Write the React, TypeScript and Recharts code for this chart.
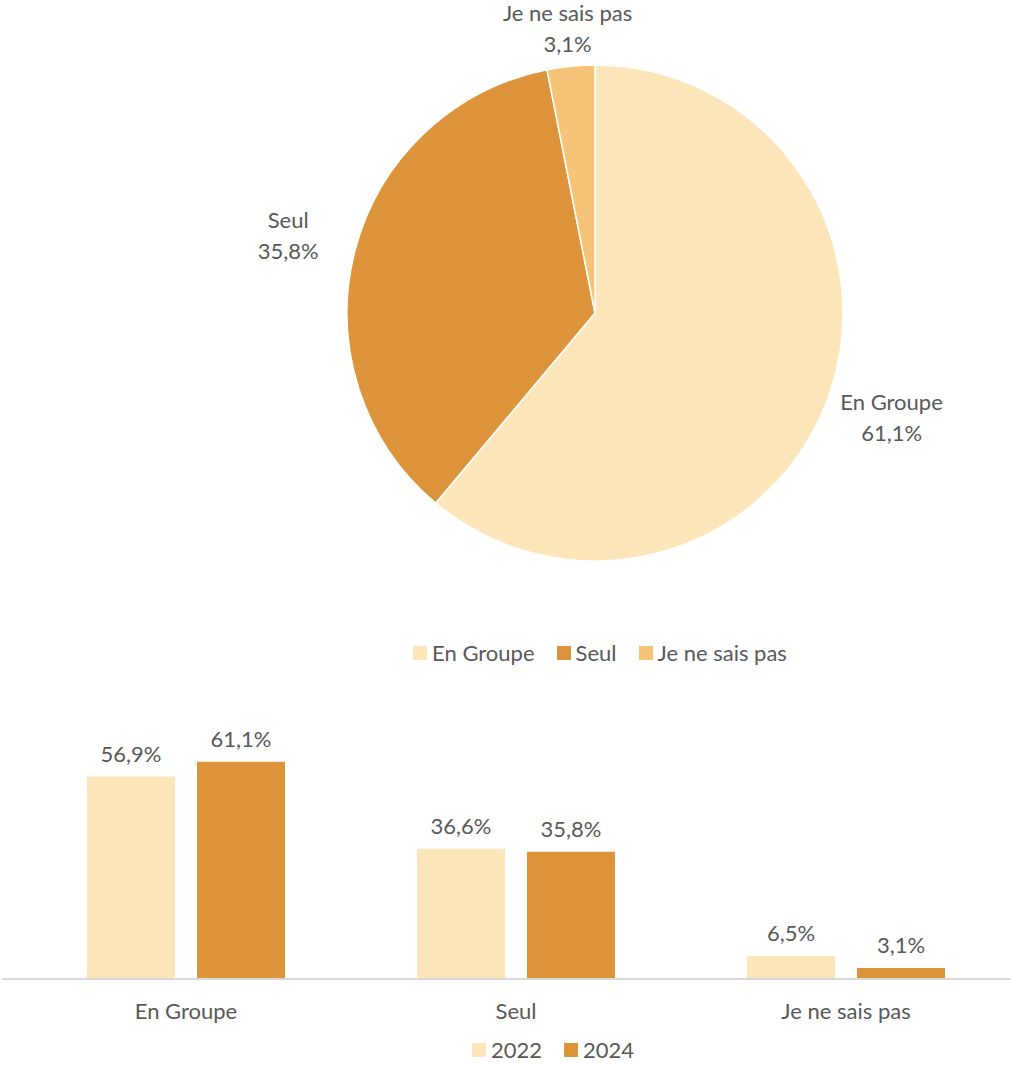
import { PieChart, Pie, Cell, BarChart, Bar, XAxis, YAxis, Legend, LabelList } from "recharts";

const categories = ["En Groupe", "Seul", "Je ne sais pas"];
const share2024 = [61.1, 35.8, 3.1];
const share2022 = [56.9, 36.6, 6.5];
const years = ["2022", "2024"];

const sliceColors = ["#FDE6B9", "#DD943B", "#F6C478"];
const yearColors = ["#FDE6B9", "#DD943B"];
const textColor = "#595959";
const font = "Lato, 'Open Sans', sans-serif";
const fs = 22;

const pieData = categories.map((name, i) => ({ name, value: share2024[i] }));
const barData = categories.map((name, i) => ({ name, y2022: share2022[i], y2024: share2024[i] }));

const fmt = (v: number) => v.toFixed(1).replace(".", ",") + "%";

const RAD = Math.PI / 180;

function PieLabel(props: any) {
  const { cx, cy, midAngle, outerRadius, name, value } = props;
  const c = Math.cos(-midAngle * RAD);
  const s = Math.sin(-midAngle * RAD);
  const r = outerRadius + 30 + Math.abs(c) * 40;
  const x = cx + r * c;
  const y = cy + r * s + (s < 0 && Math.abs(c) > 0.5 ? 5 : 0);
  return (
    <text x={x} y={y} textAnchor="middle" fill={textColor} fontSize={fs} fontFamily={font}>
      <tspan x={x} dy={-11}>{name}</tspan>
      <tspan x={x} dy={31}>{fmt(value)}</tspan>
    </text>
  );
}

function LegendRow({ items, padTop = 0 }: { items: { label: string; color: string }[]; padTop?: number }) {
  return (
    <div style={{ display: "flex", justifyContent: "center", alignItems: "center", fontFamily: font, fontSize: fs, lineHeight: "26px", color: textColor, paddingTop: padTop }}>
      {items.map((it) => (
        <div key={it.label} style={{ display: "flex", alignItems: "center", margin: "0 11px" }}>
          <span style={{ width: 14, height: 14, background: it.color, display: "inline-block", marginRight: 5 }} />
          <span>{it.label}</span>
        </div>
      ))}
    </div>
  );
}

export default function App() {
  return (
    <div style={{ position: "absolute", left: 0, top: 0, width: 1011, height: 1067, background: "#fff" }}>
      <PieChart width={1011} height={680} margin={{ top: 0, right: 0, bottom: 0, left: 0 }}>
        <Pie
          data={pieData}
          dataKey="value"
          nameKey="name"
          cx={595}
          cy={313}
          outerRadius={248}
          startAngle={90}
          endAngle={-270}
          stroke="#fff"
          strokeWidth={1.5}
          label={PieLabel}
          labelLine={false}
          isAnimationActive={false}
        >
          {pieData.map((d, i) => (
            <Cell key={d.name} fill={sliceColors[i]} />
          ))}
        </Pie>
        <Legend
          verticalAlign="bottom"
          width={400}
          wrapperStyle={{ left: 400, bottom: 14 }}
          content={() => <LegendRow items={categories.map((c, i) => ({ label: c, color: sliceColors[i] }))} />}
        />
      </PieChart>
      <BarChart
        width={1011}
        height={387}
        data={barData}
        margin={{ top: 50, right: 0, bottom: 0, left: 2 }}
        barCategoryGap={66}
        barGap={22}
      >
        <YAxis hide domain={[0, 70]} />
        <XAxis
          dataKey="name"
          height={50}
          padding={{ left: 19, right: 0 }}
          axisLine={{ stroke: "#d9d9d9", strokeWidth: 2 }}
          tickLine={false}
          tickMargin={18}
          tick={{ fill: textColor, fontSize: fs, fontFamily: font }}
        />
        <Legend
          verticalAlign="bottom"
          height={38}
          width={200}
          wrapperStyle={{ left: 453 }}
          content={() => <LegendRow padTop={8} items={years.map((y, i) => ({ label: y, color: yearColors[i] }))} />}
        />
        <Bar dataKey="y2022" name="2022" fill={yearColors[0]} isAnimationActive={false}>
          <LabelList dataKey="y2022" position="top" offset={15} formatter={(v: any) => fmt(Number(v))} fill={textColor} fontSize={fs} fontFamily={font} />
        </Bar>
        <Bar dataKey="y2024" name="2024" fill={yearColors[1]} isAnimationActive={false}>
          <LabelList dataKey="y2024" position="top" offset={15} formatter={(v: any) => fmt(Number(v))} fill={textColor} fontSize={fs} fontFamily={font} />
        </Bar>
      </BarChart>
    </div>
  );
}
